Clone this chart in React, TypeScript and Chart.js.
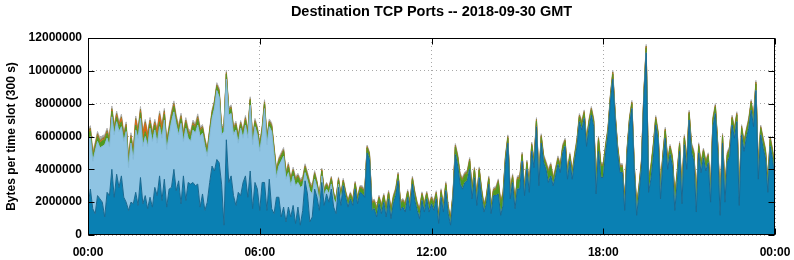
import React, { useEffect, useRef } from "react";
import { Chart, registerables } from "chart.js";

Chart.register(...registerables);

const TITLE = "Destination TCP Ports -- 2018-09-30 GMT";
const Y_TITLE = "Bytes per time slot (300 s)";
const X_TICK_LABELS = ["00:00", "06:00", "12:00", "18:00", "00:00"];
const SLOTS_PER_TICK = 72; // 6 hours of 300 s slots
const SLOT_COUNT = 288;
const Y_MAX = 12000000;
const Y_STEP = 2000000;
const MB = 1000000; // the series below are given in millions of bytes per slot

// bottom layer (dark blue)
const darkBlue = [
  1.7, 2.8, 1.6, 1.3, 2.4, 2.2, 2.0, 1.1, 2.6, 2.4, 4.0, 2.3, 3.7, 2.9, 3.6, 2.3, 2.0, 1.5, 2.0, 1.9, 2.6, 1.8, 3.5, 1.9, 2.4, 1.6, 2.3, 1.7, 2.9, 2.4, 3.6, 2.1, 3.4, 1.7, 2.8, 2.9, 4.0, 2.7, 3.3, 1.9, 3.6, 2.1, 3.2, 3.1, 3.2, 3.0, 3.1, 1.7,
  2.5, 1.5, 2.0, 3.2, 4.2, 3.9, 4.6, 4.4, 3.1, 0.6, 5.8, 3.2, 3.6, 2.4, 1.8, 2.6, 2.4, 3.2, 3.6, 2.3, 3.9, 1.6, 3.2, 2.8, 1.5, 3.2, 3.2, 1.5, 3.4, 1.6, 1.3, 2.3, 2.3, 1.1, 1.7, 0.8, 1.7, 1.1, 1.8, 0.7, 1.7, 0.6, 1.5, 3.3, 2.5, 0.8, 1.1, 2.8,
  2.3, 1.5, 3.2, 1.8, 2.5, 2.0, 2.8, 1.7, 1.3, 2.9, 1.8, 3.0, 2.3, 1.7, 2.2, 1.8, 2.8, 1.9, 2.6, 2.5, 2.3, 5.0, 4.6, 1.5, 1.6, 1.1, 1.9, 1.3, 2.0, 1.1, 2.2, 1.0, 1.9, 2.4, 3.3, 1.5, 1.7, 1.4, 2.3, 1.5, 3.1, 2.1, 1.5, 1.0, 2.1, 1.4, 2.2, 1.4,
  1.9, 1.5, 2.2, 0.7, 2.3, 1.4, 2.7, 1.3, 0.6, 2.1, 4.9, 4.2, 3.1, 2.8, 3.2, 3.3, 4.0, 2.2, 3.5, 1.8, 3.5, 2.3, 1.4, 1.9, 3.1, 1.3, 2.4, 2.4, 2.5, 1.2, 1.8, 4.3, 5.6, 2.2, 3.2, 1.6, 2.8, 2.8, 4.5, 2.4, 4.0, 2.6, 5.1, 4.1, 6.6, 3.0, 5.6, 4.4,
  4.0, 3.2, 3.6, 3.0, 3.6, 4.3, 3.8, 5.0, 5.4, 3.4, 4.5, 3.4, 4.5, 5.4, 6.9, 6.4, 7.1, 5.4, 6.5, 7.3, 6.6, 2.5, 5.1, 3.5, 3.5, 5.0, 6.1, 8.1, 9.5, 7.0, 5.0, 3.8, 3.8, 1.5, 4.8, 6.7, 7.7, 3.8, 1.2, 2.5, 4.0, 8.2, 11.1, 2.6, 3.4, 4.7, 6.7, 5.8, 2.2,
  4.4, 5.9, 4.0, 4.9, 4.2, 1.5, 3.2, 5.1, 1.9, 5.5, 4.0, 7.0, 5.0, 4.5, 1.4, 5.0, 3.8, 4.7, 3.9, 4.4, 2.0, 6.6, 7.4, 5.0, 1.2, 5.6, 2.0, 4.4, 4.8, 6.7, 5.9, 6.9, 1.8, 6.1, 5.1, 5.9, 6.5, 7.6, 6.6, 8.8, 3.4, 6.1, 5.3, 4.7, 2.6, 5.4, 4.6, 3.2,
];

// second layer (light blue)
const lightBlue = [
  4.1, 3.2, 2.9, 3.8, 3.3, 3.1, 3.4, 4.4, 3.3, 3.0, 3.2, 3.8, 3.2, 3.4, 3.0, 3.4, 4.3, 2.6, 3.6, 2.7, 3.8, 4.1, 3.6, 3.5, 3.6, 3.8, 4.2, 4.0, 3.5, 3.2, 3.0, 3.8, 3.6, 3.5, 3.3, 4.0, 3.5, 4.0, 2.8, 4.9, 2.1, 4.4, 2.7, 2.6, 3.2, 3.2, 3.6, 4.3,
  3.7, 3.9, 2.8, 2.8, 2.9, 3.8, 4.2, 4.0, 3.0, 5.7, 3.7, 4.1, 3.8, 3.7, 4.6, 3.0, 4.1, 2.7, 3.1, 3.6, 4.0, 3.9, 3.4, 3.3, 3.6, 2.9, 4.5, 4.0, 3.2, 4.7, 3.6, 1.2, 1.9, 3.4, 3.1, 2.6, 2.1, 1.9, 1.8, 2.3, 1.5, 2.3, 1.5, 0.5, 0.8, 1.9, 1.4, 0.6,
  0.6, 0.5, 0.4, 0.6, 0.3, 0.5, 0.3, 0.5, 0.6, 0.2, 0.3,
  0, 0, 0, 0, 0, 0, 0, 0, 0, 0,
  0, 0, 0, 0, 0, 0, 0, 0, 0, 0,
  0, 0, 0, 0, 0, 0, 0, 0, 0, 0,
  0, 0, 0, 0, 0, 0, 0,
  0, 0, 0, 0, 0, 0, 0, 0, 0, 0, 0, 0,
  0, 0, 0, 0, 0, 0, 0, 0, 0, 0, 0, 0,
  0, 0, 0, 0, 0, 0, 0, 0, 0, 0, 0, 0,
  0, 0, 0, 0, 0, 0, 0, 0, 0, 0, 0, 0,
  0, 0, 0, 0, 0, 0, 0, 0, 0, 0, 0, 0,
  0, 0, 0, 0, 0, 0, 0, 0, 0, 0, 0, 0,
  0, 0, 0, 0, 0, 0, 0, 0, 0, 0, 0, 0,
  0, 0, 0, 0, 0, 0, 0, 0, 0, 0, 0, 0, 0,
  0, 0, 0, 0, 0, 0, 0, 0, 0, 0, 0, 0,
  0, 0, 0, 0, 0, 0, 0, 0, 0, 0, 0, 0,
  0, 0, 0, 0, 0, 0, 0, 0, 0, 0, 0, 0,
  0, 0, 0, 0, 0, 0, 0, 0, 0, 0, 0, 0,
];

// third layer (green)
const green = [
  0.3, 0.35, 0.3, 0.25, 0.3, 0.3, 0.35, 0.3, 0.3, 0.25, 0.35, 0.3, 0.3, 0.3, 0.3, 0.25, 0.3, 0.35, 0.3, 0.3, 0.3, 0.3, 0.35, 0.3,
  0.3, 0.3, 0.3, 0.35, 0.3, 0.3, 0.3, 0.3, 0.35, 0.3, 0.3, 0.3, 0.35, 0.3, 0.3, 0.3, 0.3, 0.35, 0.3, 0.3, 0.3, 0.3, 0.35, 0.3,
  0.3, 0.3, 0.25, 0.3, 0.3, 0.3, 0.25, 0.3, 0.3, 0.3, 0.3, 0.25, 0.3, 0.3, 0.3, 0.3, 0.25, 0.3, 0.3, 0.3, 0.3, 0.3, 0.25, 0.3,
  0.3, 0.3, 0.3, 0.3, 0.25, 0.3, 0.3, 0.35, 0.3, 0.3, 0.3, 0.3, 0.35, 0.3, 0.3, 0.3, 0.35, 0.3, 0.3, 0.3, 0.3, 0.35, 0.3, 0.3,
  0.25, 0.25, 0.3, 0.25, 0.25, 0.25, 0.3, 0.25, 0.25, 0.25, 0.3, 0.25, 0.25, 0.3, 0.25, 0.25, 0.3, 0.25, 0.25, 0.3, 0.25, 0.3, 0.3, 0.4,
  0.4, 0.45, 0.35, 0.4, 0.35, 0.45, 0.35, 0.4, 0.35, 0.3, 0.35, 0.4, 0.35, 0.4, 0.3, 0.35, 0.3, 0.4, 0.35, 0.45, 0.35, 0.4, 0.3, 0.35,
  0.3, 0.35, 0.3, 0.35, 0.3, 0.3, 0.35, 0.3, 0.35, 0.3, 0.45, 0.5, 0.45, 0.5, 0.45, 0.45, 0.5, 0.45, 0.45, 0.4, 0.45, 0.35, 0.3, 0.35,
  0.3, 0.35, 0.3, 0.35, 0.7, 0.7, 0.65, 0.35, 0.3, 0.35, 0.3, 0.35, 0.6, 0.6, 0.35, 0.3, 0.35, 0.3, 0.35, 0.3, 0.35, 0.3, 0.35, 0.3,
  0.3, 0.6, 0.6, 0.35, 0.3, 0.3, 0.35, 0.3, 0.3, 0.35, 0.3, 0.35, 0.3, 0.3, 0.3, 0.35, 0.3, 0.3, 0.35, 0.3, 0.3, 0.7, 0.7, 0.7,
  0.7, 0.35, 0.3, 0.3, 0.3, 0.3, 0.35, 0.3, 0.35, 0.5, 0.35, 0.3, 0.3, 0.35, 0.5, 0.4, 0.35, 0.3, 0.3, 0.7, 0.7, 0.7, 0.35, 0.35, 0.7,
  0.4, 0.45, 0.4, 0.4, 0.45, 0.8, 0.5, 0.4, 0.7, 0.4, 0.45, 0.4, 0.4, 0.45, 0.8, 0.4, 0.45, 0.4, 0.45, 0.4, 0.7, 0.4, 0.4, 0.45,
  0.7, 0.4, 0.7, 0.45, 0.4, 0.4, 0.45, 0.4, 0.7, 0.4, 0.45, 0.4, 0.4, 0.45, 0.4, 0.4, 0.6, 0.4, 0.45, 0.4, 0.6, 0.4, 0.45, 0.5,
];

// fourth layer (orange)
const orange = [
  0.05, 0.05, 0.05, 0.05, 0.05, 0.05, 0.05, 0.05, 0.05, 0.05, 0.05, 0.05, 0.1, 0.05, 0.2, 0.05, 0.05, 0.05, 0.05, 0.1, 0.3, 0.05, 0.1, 0.4,
  0.5, 0.3, 0.1, 0.05, 0.1, 0.3, 0.4, 0.3, 0.1, 0.05, 0.05, 0.1, 0.05, 0.05, 0.05, 0.05, 0.1, 0.05, 0.05, 0.05, 0.05, 0.05, 0.05, 0.05,
  0.03, 0.02, 0.05, 0.02, 0.03, 0.02, 0.02, 0.05, 0.02, 0.03, 0.02, 0.02, 0.03, 0.05, 0.02, 0.02, 0.03, 0.02, 0.05, 0.02, 0.02, 0.03, 0.02, 0.02,
  0.05, 0.02, 0.03, 0.02, 0.02, 0.02, 0.05, 0.02, 0.02, 0.03, 0.02, 0.02, 0.05, 0.02, 0.02, 0.03, 0.02, 0.02, 0.05, 0.02, 0.03, 0.02, 0.02, 0.02,
  0.02, 0.02, 0.03, 0.02, 0.02, 0.02, 0.03, 0.02, 0.02, 0.02, 0.02, 0.03, 0.02, 0.02, 0.02, 0.03, 0.02, 0.02, 0.02, 0.02, 0.03, 0.02, 0.02, 0.02,
  0.03, 0.02, 0.02, 0.02, 0.02, 0.03, 0.02, 0.02, 0.02, 0.02, 0.03, 0.02, 0.02, 0.02, 0.02, 0.03, 0.02, 0.02, 0.02, 0.03, 0.02, 0.02, 0.02, 0.02,
  0.02, 0.03, 0.02, 0.02, 0.02, 0.03, 0.02, 0.02, 0.03, 0.02, 0.02, 0.02, 0.03, 0.02, 0.02, 0.02, 0.02, 0.03, 0.02, 0.02, 0.02, 0.03, 0.02, 0.02,
  0.02, 0.03, 0.02, 0.02, 0.02, 0.02, 0.03, 0.02, 0.02, 0.02, 0.03, 0.02, 0.02, 0.02, 0.02, 0.03, 0.02, 0.02, 0.03, 0.02, 0.02, 0.02, 0.02, 0.03,
  0.02, 0.02, 0.03, 0.02, 0.02, 0.02, 0.03, 0.02, 0.02, 0.02, 0.02, 0.03, 0.02, 0.02, 0.02, 0.03, 0.02, 0.02, 0.02, 0.02, 0.03, 0.02, 0.02, 0.02,
  0.03, 0.02, 0.02, 0.02, 0.03, 0.02, 0.02, 0.02, 0.02, 0.03, 0.02, 0.02, 0.02, 0.03, 0.02, 0.02, 0.02, 0.02, 0.03, 0.02, 0.02, 0.02, 0.03, 0.02, 0.02,
  0.02, 0.03, 0.02, 0.02, 0.02, 0.03, 0.02, 0.02, 0.02, 0.02, 0.03, 0.02, 0.02, 0.02, 0.03, 0.02, 0.02, 0.02, 0.02, 0.03, 0.02, 0.02, 0.02, 0.03,
  0.02, 0.02, 0.02, 0.03, 0.02, 0.02, 0.02, 0.03, 0.02, 0.02, 0.02, 0.02, 0.03, 0.02, 0.02, 0.02, 0.03, 0.02, 0.02, 0.02, 0.02, 0.03, 0.02, 0.02,
];

// fifth layer (olive)
const olive = [
  0.1, 0.12, 0.1, 0.1, 0.12, 0.1, 0.1, 0.1, 0.12, 0.1, 0.1, 0.12, 0.1, 0.1, 0.1, 0.12, 0.1, 0.1, 0.12, 0.1, 0.1, 0.1, 0.12, 0.1,
  0.1, 0.12, 0.1, 0.1, 0.1, 0.12, 0.1, 0.1, 0.12, 0.1, 0.1, 0.1, 0.12, 0.1, 0.1, 0.12, 0.1, 0.1, 0.1, 0.12, 0.1, 0.1, 0.12, 0.1,
  0.08, 0.1, 0.08, 0.08, 0.1, 0.08, 0.08, 0.08, 0.1, 0.08, 0.08, 0.1, 0.08, 0.08, 0.08, 0.1, 0.08, 0.08, 0.1, 0.08, 0.08, 0.08, 0.1, 0.08,
  0.08, 0.1, 0.08, 0.08, 0.08, 0.1, 0.08, 0.08, 0.1, 0.08, 0.08, 0.08, 0.1, 0.08, 0.08, 0.1, 0.08, 0.08, 0.08, 0.1, 0.08, 0.08, 0.1, 0.08,
  0.06, 0.07, 0.06, 0.08, 0.06, 0.06, 0.07, 0.06, 0.06, 0.08, 0.06, 0.07, 0.06, 0.06, 0.08, 0.06, 0.07, 0.06, 0.06, 0.08, 0.06, 0.07, 0.06, 0.08,
  0.07, 0.08, 0.06, 0.08, 0.07, 0.08, 0.06, 0.08, 0.07, 0.08, 0.06, 0.08, 0.07, 0.08, 0.06, 0.08, 0.07, 0.08, 0.06, 0.08, 0.07, 0.08, 0.06, 0.08,
  0.08, 0.1, 0.08, 0.08, 0.1, 0.08, 0.08, 0.1, 0.08, 0.08, 0.1, 0.08, 0.08, 0.1, 0.08, 0.08, 0.1, 0.08, 0.08, 0.1, 0.08, 0.08, 0.1, 0.08,
  0.08, 0.1, 0.08, 0.08, 0.1, 0.08, 0.08, 0.1, 0.08, 0.08, 0.1, 0.08, 0.08, 0.1, 0.08, 0.08, 0.1, 0.08, 0.08, 0.1, 0.08, 0.08, 0.1, 0.08,
  0.08, 0.1, 0.08, 0.08, 0.1, 0.08, 0.08, 0.1, 0.08, 0.08, 0.1, 0.08, 0.08, 0.1, 0.08, 0.08, 0.1, 0.08, 0.08, 0.1, 0.08, 0.08, 0.1, 0.08,
  0.08, 0.1, 0.08, 0.08, 0.1, 0.08, 0.08, 0.1, 0.08, 0.08, 0.1, 0.08, 0.08, 0.1, 0.08, 0.08, 0.1, 0.08, 0.08, 0.1, 0.08, 0.08, 0.1, 0.08, 0.08,
  0.1, 0.08, 0.08, 0.1, 0.08, 0.08, 0.1, 0.08, 0.08, 0.1, 0.08, 0.08, 0.1, 0.08, 0.08, 0.1, 0.08, 0.08, 0.1, 0.08, 0.08, 0.1, 0.08, 0.08,
  0.1, 0.08, 0.08, 0.1, 0.08, 0.08, 0.1, 0.08, 0.08, 0.1, 0.08, 0.08, 0.1, 0.08, 0.08, 0.1, 0.08, 0.08, 0.1, 0.08, 0.08, 0.1, 0.08, 0.08,
];

// top layer (grey)
const grey = [
  0.15, 0.14, 0.16, 0.15, 0.14, 0.15, 0.16, 0.15, 0.14, 0.15, 0.16, 0.15, 0.15, 0.14, 0.16, 0.15, 0.14, 0.15, 0.16, 0.15, 0.15, 0.14, 0.16, 0.15,
  0.14, 0.15, 0.16, 0.15, 0.15, 0.14, 0.16, 0.15, 0.14, 0.15, 0.16, 0.15, 0.15, 0.14, 0.16, 0.15, 0.14, 0.15, 0.16, 0.15, 0.15, 0.14, 0.16, 0.15,
  0.12, 0.11, 0.13, 0.12, 0.11, 0.12, 0.13, 0.12, 0.11, 0.12, 0.13, 0.12, 0.12, 0.11, 0.13, 0.12, 0.11, 0.12, 0.13, 0.12, 0.12, 0.11, 0.13, 0.12,
  0.11, 0.12, 0.13, 0.12, 0.12, 0.11, 0.13, 0.12, 0.11, 0.12, 0.13, 0.12, 0.12, 0.11, 0.13, 0.12, 0.11, 0.12, 0.13, 0.12, 0.12, 0.11, 0.13, 0.12,
  0.08, 0.09, 0.08, 0.1, 0.08, 0.09, 0.08, 0.1, 0.08, 0.09, 0.08, 0.1, 0.08, 0.09, 0.08, 0.1, 0.08, 0.09, 0.08, 0.1, 0.08, 0.09, 0.08, 0.1,
  0.09, 0.1, 0.09, 0.1, 0.09, 0.1, 0.09, 0.1, 0.09, 0.1, 0.09, 0.1, 0.09, 0.1, 0.09, 0.1, 0.09, 0.1, 0.09, 0.1, 0.09, 0.1, 0.09, 0.1,
  0.1, 0.12, 0.1, 0.11, 0.1, 0.12, 0.1, 0.11, 0.1, 0.12, 0.1, 0.11, 0.1, 0.12, 0.1, 0.11, 0.1, 0.12, 0.1, 0.11, 0.1, 0.12, 0.1, 0.11,
  0.1, 0.12, 0.1, 0.11, 0.1, 0.12, 0.1, 0.11, 0.1, 0.12, 0.1, 0.11, 0.1, 0.12, 0.1, 0.11, 0.1, 0.12, 0.1, 0.11, 0.1, 0.12, 0.1, 0.11,
  0.1, 0.12, 0.1, 0.11, 0.1, 0.12, 0.1, 0.11, 0.1, 0.12, 0.1, 0.11, 0.1, 0.12, 0.1, 0.11, 0.1, 0.12, 0.1, 0.11, 0.1, 0.12, 0.1, 0.11,
  0.1, 0.12, 0.1, 0.11, 0.1, 0.12, 0.1, 0.11, 0.1, 0.12, 0.1, 0.11, 0.1, 0.12, 0.1, 0.11, 0.1, 0.12, 0.1, 0.11, 0.1, 0.12, 0.1, 0.11, 0.1,
  0.12, 0.1, 0.11, 0.1, 0.12, 0.1, 0.11, 0.1, 0.12, 0.1, 0.11, 0.1, 0.12, 0.1, 0.11, 0.1, 0.12, 0.1, 0.11, 0.1, 0.12, 0.1, 0.11, 0.1,
  0.12, 0.1, 0.11, 0.1, 0.12, 0.1, 0.11, 0.1, 0.12, 0.1, 0.11, 0.1, 0.12, 0.1, 0.11, 0.1, 0.12, 0.1, 0.11, 0.1, 0.12, 0.1, 0.11, 0.1,
];

const LAYERS = [
  { name: "dark blue", values: darkBlue, fill: "#0a80b3", edge: "#1a6890" },
  { name: "light blue", values: lightBlue, fill: "#8fc4e3", edge: "#84b9d8" },
  { name: "green", values: green, fill: "#4f9a1e", edge: "#589626" },
  { name: "orange", values: orange, fill: "#e0620c", edge: "#d46a1c" },
  { name: "olive", values: olive, fill: "#8c7a2c", edge: "#8f7d34" },
  { name: "grey", values: grey, fill: "#a6a6a6", edge: "#b2b2b2" },
];

const FONT = "'Liberation Sans', Arial, Helvetica, sans-serif";

const framePlugin = {
  id: "gnuplotFrame",
  afterDatasetsDraw(chart: any) {
    const { ctx, chartArea: a, scales } = chart;
    const l = Math.round(a.left) + 0.5;
    const r = Math.round(a.right) - 0.5;
    const t = Math.round(a.top) + 0.5;
    const b = Math.round(a.bottom) - 0.5;
    const tick = 6;
    ctx.save();
    ctx.strokeStyle = "#000";
    ctx.lineWidth = 1;
    ctx.beginPath();
    for (const tk of scales.y.ticks) {
      const y = Math.round(scales.y.getPixelForValue(tk.value)) + 0.5;
      ctx.moveTo(l, y);
      ctx.lineTo(l + tick, y);
      ctx.moveTo(r, y);
      ctx.lineTo(r - tick, y);
    }
    for (const tk of scales.x.ticks) {
      const x = Math.round(scales.x.getPixelForValue(tk.value)) + 0.5;
      ctx.moveTo(x, t);
      ctx.lineTo(x, t + tick);
      ctx.moveTo(x, b);
      ctx.lineTo(x, b - tick);
    }
    ctx.stroke();
    ctx.strokeRect(l, t, r - l, b - t);
    ctx.restore();
  },
};

export default function App() {
  const ref = useRef<HTMLCanvasElement>(null);

  useEffect(() => {
    document.body.style.margin = "0";
    const canvas = ref.current;
    if (!canvas) return;
    const datasets = LAYERS.map((layer, k) => ({
      label: layer.name,
      data: layer.values.map((v, i) => ({ x: i, y: v * MB })),
      backgroundColor: layer.fill,
      borderColor: layer.edge,
      borderWidth: 1,
      pointRadius: 0,
      pointHoverRadius: 0,
      tension: 0,
      fill: k === 0 ? "origin" : "-1",
    }));

    const chart = new Chart(canvas, {
      type: "line",
      data: { datasets },
      options: {
        responsive: false,
        animation: false,
        events: [],
        layout: { padding: { left: 0, right: 19, top: 0, bottom: 0 } },
        plugins: {
          legend: { display: false },
          tooltip: { enabled: false },
          title: {
            display: true,
            text: TITLE,
            fullSize: false,
            color: "#000",
            font: { family: FONT, size: 14.5, weight: "bold", lineHeight: 1.2 },
            padding: { top: 3, bottom: 17.6 },
          },
        },
        scales: {
          x: {
            type: "linear",
            min: 0,
            max: SLOT_COUNT,
            ticks: {
              stepSize: SLOTS_PER_TICK,
              autoSkip: false,
              maxRotation: 0,
              padding: 10,
              color: "#000",
              font: { family: FONT, size: 12, weight: "bold" },
              callback: (v: any) => X_TICK_LABELS[Math.round(Number(v) / SLOTS_PER_TICK)] ?? "",
            },
            grid: { color: "#a8a8a8", lineWidth: 1, drawTicks: false },
            border: { display: false, dash: [1, 3] },
            afterFit: (s: any) => {
              s.height = 25;
              s.paddingLeft = 0;
              s.paddingRight = 0;
            },
          },
          y: {
            stacked: true,
            min: 0,
            max: Y_MAX,
            ticks: {
              stepSize: Y_STEP,
              padding: 6,
              color: "#000",
              font: { family: FONT, size: 12, weight: "bold" },
              callback: (v: any) => String(v),
            },
            title: {
              display: true,
              text: Y_TITLE,
              color: "#000",
              font: { family: FONT, size: 12, weight: "bold" },
              padding: { top: 4, bottom: 4 },
            },
            grid: { color: "#a8a8a8", lineWidth: 1, drawTicks: false },
            border: { display: false, dash: [1, 3] },
            afterFit: (s: any) => {
              s.width = 88;
              s.paddingTop = 0;
              s.paddingBottom = 0;
            },
          },
        },
      },
      plugins: [framePlugin],
    } as any);

    return () => chart.destroy();
  }, []);

  return <canvas ref={ref} width={794} height={260} style={{ display: "block" }} />;
}
